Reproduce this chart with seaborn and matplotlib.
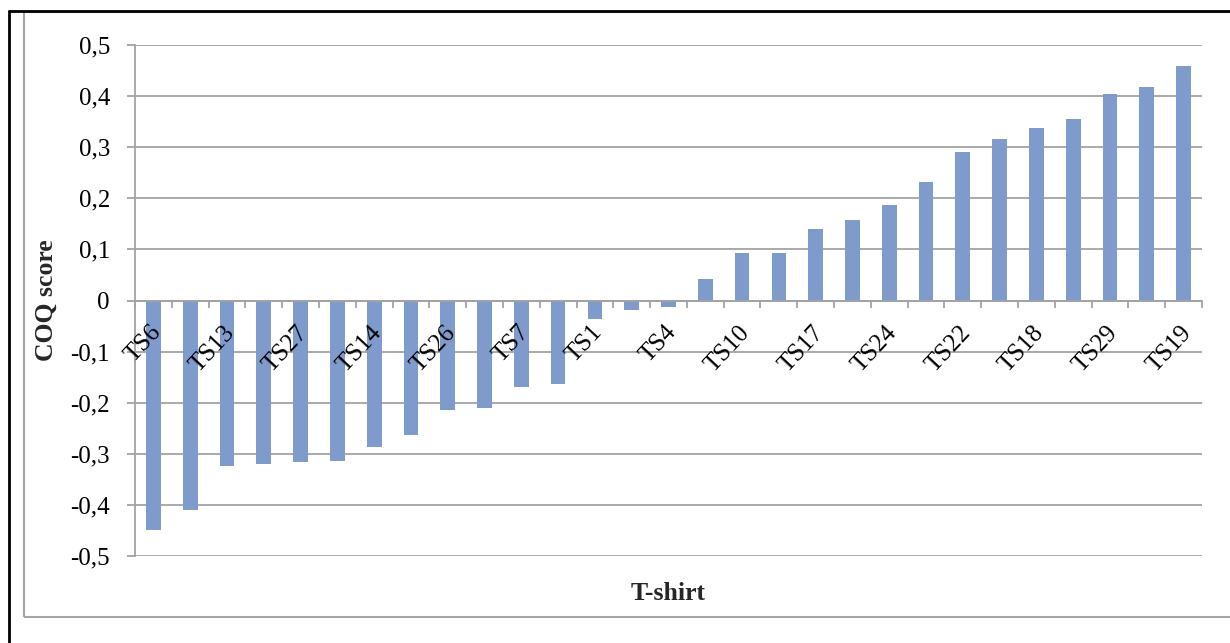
import numpy as np
import pandas as pd
import matplotlib
matplotlib.use("Agg")
import matplotlib.pyplot as plt
import matplotlib.transforms as mtransforms
from matplotlib.lines import Line2D
from matplotlib.patches import Rectangle
import seaborn as sns

# ---- data ----
categories = ["TS6", "TS2", "TS13", "TS3", "TS27", "TS5", "TS14", "TS8", "TS26", "TS9",
              "TS7", "TS11", "TS1", "TS12", "TS4", "TS15", "TS10", "TS16", "TS17", "TS20",
              "TS24", "TS21", "TS22", "TS23", "TS18", "TS25", "TS29", "TS28", "TS19"]
coq_scores = [-0.450, -0.410, -0.324, -0.319, -0.316, -0.314, -0.286, -0.264, -0.215, -0.211,
              -0.169, -0.163, -0.036, -0.018, -0.013, 0.042, 0.092, 0.093, 0.140, 0.158,
              0.186, 0.231, 0.290, 0.316, 0.337, 0.355, 0.404, 0.418, 0.459]
y_ticks = [-0.5, -0.4, -0.3, -0.2, -0.1, 0.0, 0.1, 0.2, 0.3, 0.4, 0.5]
y_tick_labels = ["-0,5", "-0,4", "-0,3", "-0,2", "-0,1", "0", "0,1", "0,2", "0,3", "0,4", "0,5"]
x_title = "T-shirt"
y_title = "COQ score"

df = pd.DataFrame({"tshirt": categories, "score": coq_scores})

sns.set_style("white")
plt.rcParams["font.family"] = ["Liberation Serif", "DejaVu Serif"]

W, H = 1230, 643
fig = plt.figure(figsize=(W / 100, H / 100), dpi=100)
ax = fig.add_axes([135 / W, 1 - 556 / H, (1202 - 135) / W, (556 - 45) / H])

grid_c = "#A3A3A3"
bar_c = "#7F9BCB"

sns.barplot(data=df, x="tshirt", y="score", order=categories, color=bar_c,
            saturation=1, width=0.4, ax=ax, zorder=3, linewidth=0)

ax.set_xlim(-0.5, len(categories) - 0.5)
ax.set_ylim(-0.5, 0.5)
ax.set_yticks(y_ticks)
ax.set_yticklabels(y_tick_labels, fontsize=18)
ax.yaxis.grid(True, color=grid_c, lw=1.3)
ax.xaxis.grid(False)
ax.set_axisbelow(True)

for s in ["top", "right"]:
    ax.spines[s].set_visible(False)
ax.spines["left"].set_color(grid_c)
ax.spines["left"].set_linewidth(1.3)
ax.spines["bottom"].set_position(("data", 0))
ax.spines["bottom"].set_color(grid_c)
ax.spines["bottom"].set_linewidth(1.3)
ax.spines["bottom"].set_zorder(4)

ax.tick_params(axis="y", which="major", length=6, width=1.3, color=grid_c,
               direction="out", pad=12, left=True, labelcolor="black")

# category tick marks between categories, labels every other category
ax.set_xticks(np.arange(-0.5, len(categories), 1.0), minor=True)
ax.set_xticks(np.arange(len(categories)))
ax.set_xticklabels([c if i % 2 == 0 else "" for i, c in enumerate(categories)],
                   rotation=47, ha="right", va="top", fontsize=18)
ax.tick_params(axis="x", which="major", length=0, pad=15, bottom=True, labelcolor="black")
ax.tick_params(axis="x", which="minor", length=5, width=1.3, color=grid_c,
               direction="out", bottom=True)
offset = mtransforms.ScaledTranslation(12 / 100, 0, fig.dpi_scale_trans)
for lbl in ax.get_xticklabels():
    lbl.set_transform(lbl.get_transform() + offset)
# category labels are drawn on top of the bars
ax.xaxis.set_zorder(5)

ax.set_xlabel(x_title, fontsize=18.5, fontweight="bold", va="center")
ax.xaxis.set_label_coords(0.5, (556 - 593) / (556 - 45))
ax.set_ylabel(y_title, fontsize=18.5, fontweight="bold", va="center")
ax.yaxis.set_label_coords((46 - 135) / (1202 - 135), 0.5)

# chart frames
fig.add_artist(Rectangle((24 / W, 1 - 617 / H), 1.0, (617 - 12) / H,
                         transform=fig.transFigure, fill=False, ec="#A6A6A6", lw=1.5))
fig.add_artist(Line2D([9 / W, 1.0], [1 - 11 / H, 1 - 11 / H], transform=fig.transFigure,
                      color="black", lw=2))
fig.add_artist(Line2D([9 / W, 9 / W], [0.0, 1 - 11 / H], transform=fig.transFigure,
                      color="black", lw=2))

fig.savefig("out.png", dpi=100)
